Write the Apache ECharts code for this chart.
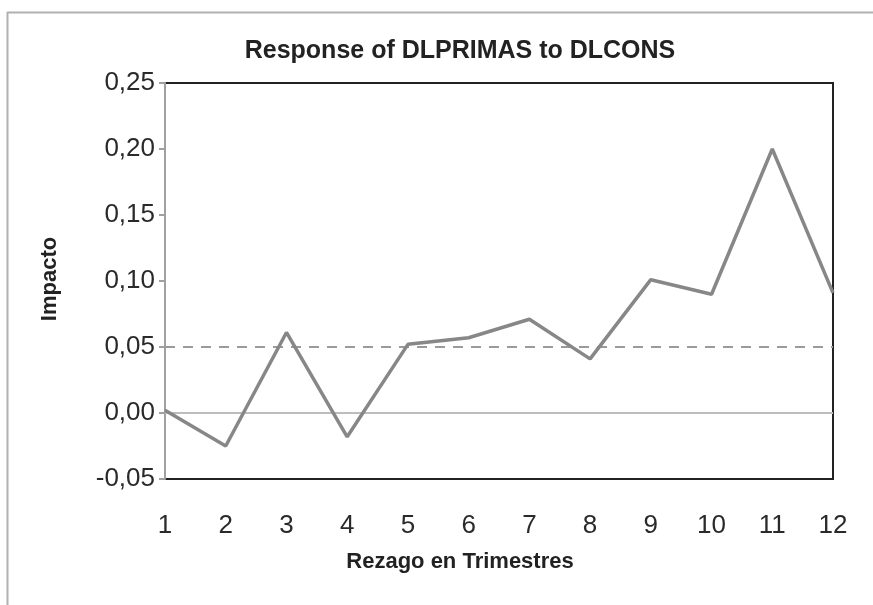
<!DOCTYPE html>
<html>
<head>
<meta charset="utf-8">
<script src="https://cdn.jsdelivr.net/npm/echarts@6/dist/echarts.min.js"></script>
<style>
html,body{margin:0;padding:0;background:#fff;}
#chart{width:873px;height:605px;}
</style>
</head>
<body>
<div id="chart"></div>
<script>
const titleText = 'Response of DLPRIMAS to DLCONS';
const xAxisName = 'Rezago en Trimestres';
const yAxisName = 'Impacto';
const categories = ['1','2','3','4','5','6','7','8','9','10','11','12'];
const responseValues = [0.002, -0.025, 0.061, -0.018, 0.052, 0.057, 0.071, 0.041, 0.101, 0.090, 0.200, 0.091];
const zeroLine = 0;
const dashedRef = 0.05;
const yMin = -0.05, yMax = 0.25, yStep = 0.05;

const chart = echarts.init(document.getElementById('chart'));
const labelFont = "'Liberation Sans', Arial, sans-serif";
const boldFont = "'Liberation Sans', Arial, sans-serif";
chart.setOption({
  animation: false,
  backgroundColor: '#fff',
  grid: { left: 165, right: 40, top: 83, bottom: 126, show: true, borderColor: '#222', borderWidth: 2, backgroundColor: 'transparent' },
  xAxis: {
    type: 'category', data: categories, boundaryGap: false,
    axisLine: { show: true, lineStyle: { color: '#222', width: 2 } },
    axisTick: { show: false },
    axisLabel: { color: '#2a2a2a', fontSize: 26, fontFamily: labelFont, margin: 34 },
    splitLine: { show: false }
  },
  yAxis: {
    type: 'value', min: yMin, max: yMax, interval: yStep,
    axisLine: { show: true, lineStyle: { color: '#a0a0a0', width: 2 } },
    axisTick: { show: true, length: 6, lineStyle: { color: '#a0a0a0', width: 2 } },
    axisLabel: { color: '#2a2a2a', fontSize: 26, fontFamily: labelFont, margin: 10,
      formatter: v => (Math.abs(v) < 1e-9 ? 0 : v).toFixed(2).replace('.', ',') },
    splitLine: { show: false }
  },
  series: [{
    type: 'line', data: responseValues, symbol: 'none',
    lineStyle: { color: '#878787', width: 3.5 },
    z: 5,
    markLine: {
      silent: true, symbol: ['none','none'], label: { show: false },
      data: [
        { yAxis: zeroLine, lineStyle: { type: 'solid', color: '#bdbdbd', width: 2 } },
        { yAxis: dashedRef, lineStyle: { type: [10, 8], color: '#9a9a9a', width: 2 } }
      ]
    }
  }],
  graphic: [
    { type: 'line', shape: { x1: 7, y1: 12.5, x2: 873, y2: 12.5 }, style: { stroke: '#b0b0b0', lineWidth: 2 } },
    { type: 'line', shape: { x1: 7.5, y1: 12, x2: 7.5, y2: 605 }, style: { stroke: '#b0b0b0', lineWidth: 2 } },
    { type: 'text', x: 460, y: 51, style: { text: titleText, fill: '#222', font: "bold 25px " + boldFont, textAlign: 'center', textVerticalAlign: 'middle' } },
    { type: 'text', x: 460, y: 562, style: { text: xAxisName, fill: '#222', font: "bold 22px " + boldFont, textAlign: 'center', textVerticalAlign: 'middle' } },
    { type: 'text', x: 50, y: 279, rotation: Math.PI / 2, style: { text: yAxisName, fill: '#222', font: "bold 22px " + boldFont, textAlign: 'center', textVerticalAlign: 'middle' } }
  ]
});
</script>
</body>
</html>
